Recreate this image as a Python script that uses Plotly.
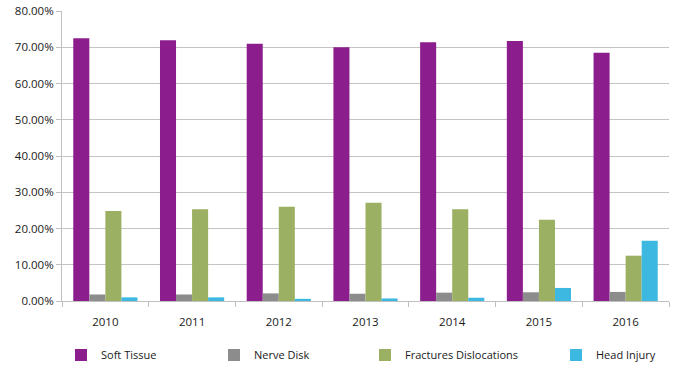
import plotly.graph_objects as go

years = ["2010", "2011", "2012", "2013", "2014", "2015", "2016"]
soft_tissue = [72.5, 71.9, 71.0, 70.0, 71.4, 71.7, 68.5]
nerve_disk = [1.8, 1.8, 2.1, 2.0, 2.3, 2.4, 2.5]
fractures = [24.8, 25.3, 26.0, 27.1, 25.3, 22.4, 12.5]
head_injury = [1.0, 1.0, 0.6, 0.7, 0.9, 3.6, 16.6]

series = [
    ("Soft Tissue", soft_tissue, "#8B1E8C", "legend", 61),
    ("Nerve Disk", nerve_disk, "#8C8C8C", "legend2", 214),
    ("Fractures Dislocations", fractures, "#9BB062", "legend3", 365),
    ("Head Injury", head_injury, "#3DB8E0", "legend4", 556),
]

W, H = 675, 368
fig = go.Figure()
legends = {}
for name, vals, color, lg, lx in series:
    fig.add_trace(go.Bar(x=years, y=vals, name=name, marker_color=color,
                         marker_line_width=0, legend=lg))
    legends[lg] = dict(orientation="h", xref="container", yref="container",
                       x=lx / W, xanchor="left", y=1 - 355 / H, yanchor="middle",
                       font=dict(size=11, color="#1a1a1a"),
                       bgcolor="rgba(0,0,0,0)", borderwidth=0)

fig.update_layout(
    width=W, height=H,
    margin=dict(l=62, r=6, t=11, b=67, autoexpand=False),
    paper_bgcolor="white", plot_bgcolor="white",
    barmode="group", bargap=0.26, bargroupgap=0,
    font=dict(family="Open Sans", size=11, color="#1a1a1a"),
    showlegend=True,
    xaxis=dict(showline=True, linecolor="#BFBFBF", ticks="outside",
               tickson="boundaries", tickcolor="#BFBFBF", ticklen=5,
               showgrid=False, tickfont=dict(size=11.5), automargin=False,
               ticklabelstandoff=10),
    yaxis=dict(range=[0, 80], dtick=10, tickformat=".2f", ticksuffix="%",
               showgrid=True, gridcolor="#C4C4C4", gridwidth=1,
               showline=True, linecolor="#BFBFBF", ticks="outside",
               tickcolor="#BFBFBF", ticklen=5, zeroline=False,
               tickfont=dict(size=11.5), automargin=False),
    **legends,
)

fig.write_html("out.html")
